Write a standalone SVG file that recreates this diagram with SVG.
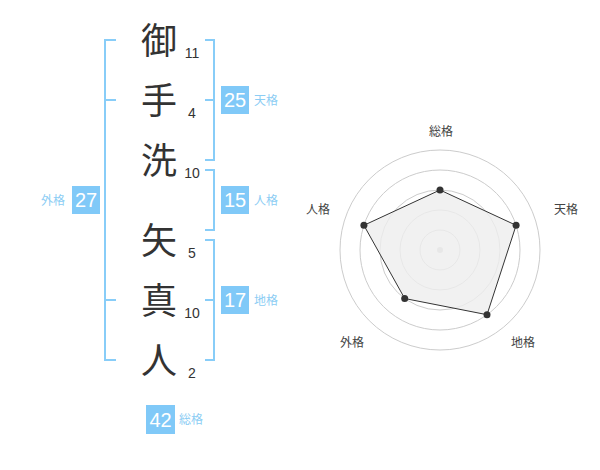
<svg xmlns="http://www.w3.org/2000/svg" width="600" height="470" viewBox="0 0 600 470">
<style>
.kanji{font-family:"Noto Sans CJK JP","Noto Sans CJK SC",sans-serif;font-size:36px;fill:#333;text-anchor:middle}
.num{font-family:"Liberation Sans",Arial,sans-serif;font-size:14px;fill:#333;text-anchor:middle}
.br{fill:none;stroke:#88cdf8;stroke-width:2}
.box{fill:#80c9f8}
.bnum{font-family:"Liberation Sans",Arial,sans-serif;font-size:20px;fill:#fff;text-anchor:middle}
.lbl{font-family:"Noto Sans CJK JP","Noto Sans CJK SC",sans-serif;font-size:12px;fill:#8ccdf4}
.rl{font-family:"Noto Sans CJK JP","Noto Sans CJK SC",sans-serif;font-size:12px;fill:#444;text-anchor:middle}
.ring{fill:none;stroke:#cccccc;stroke-width:1}
.dot{fill:#333}
</style>
<rect width="600" height="470" fill="#fff"/>
<g id="connectors">
<path class="br" d="M116,40 H105 V360 H116 M105,100 H116 M105,300 H116"/>
<path class="br" d="M205,40 H214 V160 H205 M214,100 H205"/>
<path class="br" d="M205,170 H214 V230 H205"/>
<path class="br" d="M205,240 H214 V360 H205 M214,300 H205"/>
</g>
<g id="char-1"><text class="kanji" x="159" y="54">御</text><text class="num" x="192" y="58">11</text></g>
<g id="char-2"><text class="kanji" x="159" y="114">手</text><text class="num" x="192" y="118">4</text></g>
<g id="char-3"><text class="kanji" x="159" y="174">洗</text><text class="num" x="192" y="178">10</text></g>
<g id="char-4"><text class="kanji" x="159" y="254">矢</text><text class="num" x="192" y="258">5</text></g>
<g id="char-5"><text class="kanji" x="159" y="314">真</text><text class="num" x="192" y="318">10</text></g>
<g id="char-6"><text class="kanji" x="159" y="374">人</text><text class="num" x="192" y="378">2</text></g>
<g id="tenkaku"><rect class="box" x="221" y="86" width="28" height="28"/><text class="bnum" x="235" y="107">25</text><text class="lbl" x="254" y="104.5">天格</text></g>
<g id="jinkaku"><rect class="box" x="221" y="186" width="28" height="28"/><text class="bnum" x="235" y="207">15</text><text class="lbl" x="254" y="204.5">人格</text></g>
<g id="chikaku"><rect class="box" x="221" y="286" width="28" height="28"/><text class="bnum" x="235" y="307">17</text><text class="lbl" x="254" y="304.5">地格</text></g>
<g id="gaikaku"><rect class="box" x="72" y="186" width="28" height="28"/><text class="bnum" x="86" y="207">27</text><text class="lbl" x="65" y="204.5" text-anchor="end">外格</text></g>
<g id="soukaku"><rect class="box" x="146" y="405" width="29" height="29"/><text class="bnum" x="160.5" y="426.5">42</text><text class="lbl" x="179" y="424">総格</text></g>
<g id="radar">
<circle class="ring" cx="440" cy="250" r="20"/>
<circle class="ring" cx="440" cy="250" r="40"/>
<circle class="ring" cx="440" cy="250" r="60"/>
<circle class="ring" cx="440" cy="250" r="80"/>
<circle class="ring" cx="440" cy="250" r="100"/>
<circle cx="440" cy="250" r="3" fill="#cccccc"/>
<polygon points="440,190 516.1,225.3 487,314.7 404.7,298.5 363.9,225.3" fill="#eeeeee" fill-opacity="0.8" stroke="#333" stroke-width="1"/>
<circle class="dot" cx="440" cy="190" r="3.5"/>
<circle class="dot" cx="516.1" cy="225.3" r="3.5"/>
<circle class="dot" cx="487" cy="314.7" r="3.5"/>
<circle class="dot" cx="404.7" cy="298.5" r="3.5"/>
<circle class="dot" cx="363.9" cy="225.3" r="3.5"/>
<text class="rl" x="441" y="136">総格</text>
<text class="rl" x="566" y="213.5">天格</text>
<text class="rl" x="523" y="346.5">地格</text>
<text class="rl" x="352" y="346.5">外格</text>
<text class="rl" x="318" y="213.5">人格</text>
</g>
</svg>
